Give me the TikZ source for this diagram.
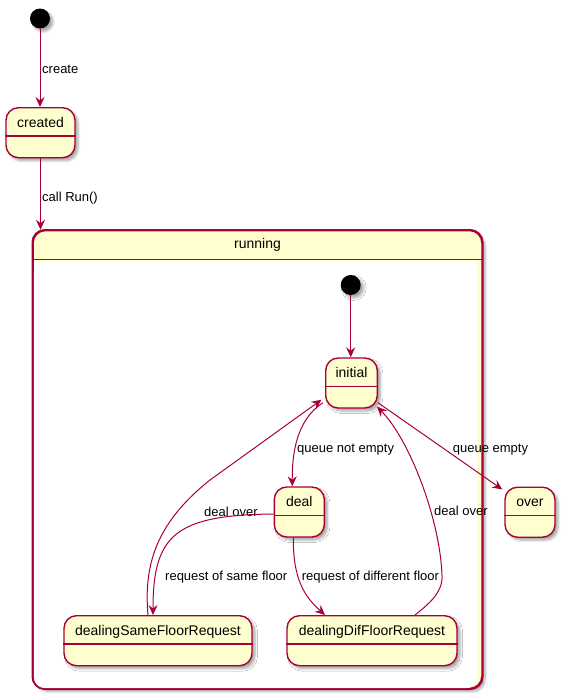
\documentclass[tikz,border=0pt]{standalone}
\usepackage{fontspec}
\setmainfont{Liberation Sans}
\usetikzlibrary{arrows.meta,shadows.blur}
\definecolor{umlred}{HTML}{A80036}
\definecolor{umlfill}{HTML}{FEFECE}
\tikzset{
  shad/.style={blur shadow={shadow xshift=3pt, shadow yshift=-3pt, shadow opacity=35, shadow blur steps=5, shadow blur radius=2.5pt}},
  statebox/.style={draw=umlred, fill=umlfill, line width=1.4pt, rounded corners=12.5pt, shad, inner sep=0pt},
  statetext/.style={font=\fontsize{14}{16}\selectfont, inner sep=0pt, text height=10pt, text depth=3pt},
  edge/.style={draw=umlred, line width=1pt, -{Stealth[length=10pt,width=9pt,inset=3.5pt]}},
  elabel/.style={font=\fontsize{13}{15}\selectfont, inner sep=0pt, anchor=west, text height=9.5pt, text depth=2.7pt},
  startdot/.style={circle, fill=black, minimum size=20pt, inner sep=0pt, shad},
  divline/.style={draw=umlred, line width=1.4pt},
}
\newcommand{\ustate}[5]{%
  \node[statebox, minimum width=#4pt, minimum height=50pt, anchor=north] (#1) at (#2,#3) {};
  \draw[divline] ([yshift=-29pt]#1.north west) -- ([yshift=-29pt]#1.north east);
  \node[statetext] (#1-t) at ([yshift=-16.5pt]#1.north) {#5};
}
\begin{document}
\begin{tikzpicture}[x=1pt,y=-1pt]
\useasboundingbox (0,0) rectangle (566,699);

% top level
\node[startdot] (start1) at (40,18.5) {};
\ustate{created}{40.5}{107}{69}{created}

% running composite
\node[draw=umlred, fill=umlfill, line width=1.5pt, rounded corners=12.5pt, shad,
      minimum width=449pt, minimum height=458pt, inner sep=0pt] (running) at (257.5,459.5) {};
\fill[white, rounded corners=11pt] (33.8,260.7) rectangle (477,688.2);
\fill[white] (33.8,260.7) rectangle (50,280);
\fill[white] (460,260.7) rectangle (477,280);
\draw[umlred, line width=1.5pt, rounded corners=12.5pt] (running.north west) rectangle (running.south east);
\draw[divline] ([yshift=-29.5pt]running.north west) -- ([yshift=-29.5pt]running.north east);
\node[statetext] (running-t) at ([yshift=-15pt]running.north) {running};

% inner states
\node[startdot] (start2) at (350.7,285) {};
\ustate{initial}{351.5}{357.3}{51.6}{initial}
\ustate{deal}{299.3}{486.3}{50}{deal}
\ustate{over}{530}{486.5}{50}{over}
\ustate{dSFR}{158}{615}{188}{dealingSameFloorRequest}
\ustate{dDFR}{372}{615}{170}{dealingDifFloorRequest}

% edges
\draw[edge] (start1) -- (start1 |- created.north);
\node[elabel] (l-create) at (42,70) {create};

\draw[edge] (created.south) -- (created.south |- running.north);
\node[elabel] (l-run) at (42,198) {call Run()};

\draw[edge] (start2) -- (start2 |- initial.north);

\draw[edge] ([xshift=-2pt,yshift=6pt]initial.south west) .. controls (296,420) and (292,455) .. ([xshift=-7pt]deal.north);
\node[elabel] (l-qne) at (297,449) {queue not empty};

\draw[edge] ([yshift=6pt]initial.south east) -- ([xshift=-2pt,yshift=-3pt]over.north west);
\node[elabel] (l-qe) at (452.7,449) {queue empty};

\draw[edge] ([xshift=-10pt]dSFR.north) .. controls (143,560) and (160,520) .. (210,480) -- ([xshift=-3.5pt,yshift=9pt]initial.south west);
\node[elabel] (l-do1) at (204,512.7) {deal over};

\draw[edge] ([xshift=43pt]dDFR.north) .. controls (430,603) and (443,592) .. (442,575) .. controls (440,520) and (410,440) .. ([xshift=-1pt,yshift=2pt]initial.south east);
\node[elabel] (l-do2) at (434,512) {deal over};

\draw[edge] ([yshift=-2pt]deal.west) .. controls (175,515) and (153,535) .. ([xshift=-5pt]dSFR.north);
\node[elabel] (l-same) at (165,577) {request of same floor};

\draw[edge] ([xshift=-6pt]deal.south) .. controls (293,580) and (305,597) .. ([xshift=-47pt]dDFR.north);
\node[elabel] (l-diff) at (301.7,577) {request of different floor};
\end{tikzpicture}
\end{document}
